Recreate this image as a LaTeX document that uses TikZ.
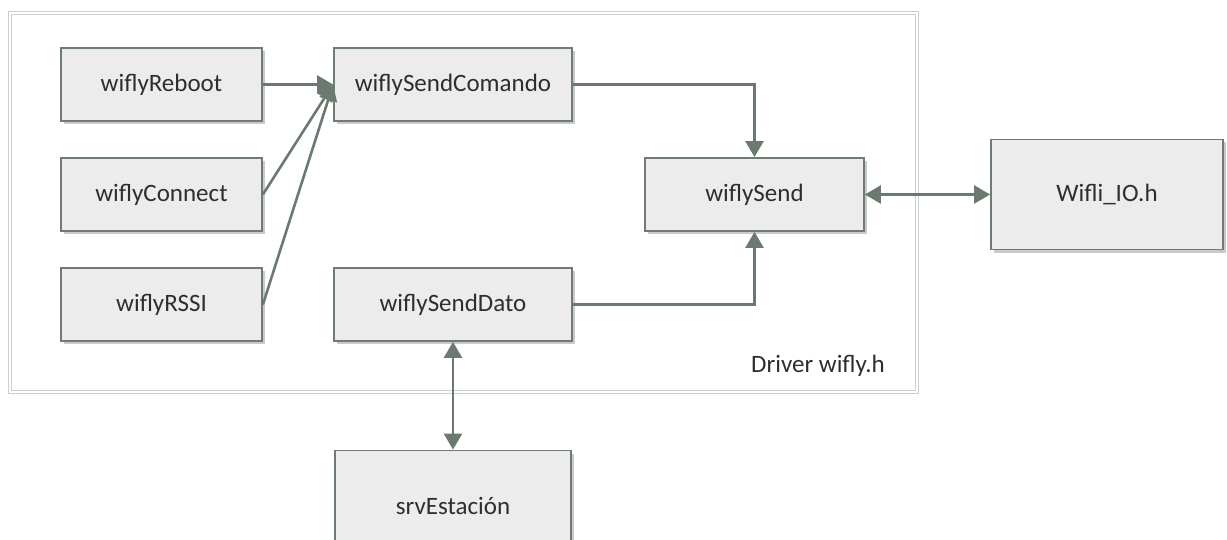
\documentclass[tikz,border=0pt]{standalone}
\usepackage{fontspec}
\setmainfont{Carlito}
\usetikzlibrary{arrows.meta,shadows}

\definecolor{boxfill}{HTML}{EBECEB}
\definecolor{boxline}{HTML}{6E7C73}
\definecolor{arrowline}{HTML}{6B7A70}
\definecolor{framegray}{HTML}{C8D0CC}
\definecolor{textgray}{HTML}{2E2E2E}

\begin{document}
\begin{tikzpicture}[
	font=\fontsize{12.5}{15}\selectfont,
	module/.style={draw=boxline, line width=0.9pt, fill=boxfill, text=textgray,
		minimum width=100.5pt, minimum height=36.5pt, inner sep=0pt,
		drop shadow={shadow xshift=1.5pt, shadow yshift=-1.5pt, fill=black!35, opacity=0.6}},
	link/.style={color=arrowline, line width=1.3pt, -{Triangle[width=9pt,length=8pt]}},
	dlink/.style={link, {Triangle[width=9pt,length=8pt]}-{Triangle[width=9pt,length=8pt]}}
]
	\useasboundingbox (0,0) rectangle (613.5pt,-270pt);
	\clip (0,0) rectangle (613.5pt,-270pt);

	% Driver frame
	\draw[draw=framegray, line width=0.5pt, double=white, double distance=1.2pt]
		(5pt,-6.4pt) rectangle (458.5pt,-196pt);

	% Define nodes
	\node (reboot) [module] at (80.75pt,-42.25pt) {wiflyReboot};
	\node (connect) [module, node distance=55pt, below of=reboot] {wiflyConnect};
	\node (rssi) [module, node distance=55pt, below of=connect] {wiflyRSSI};

	\node (comando) [module, minimum width=119pt, node distance=145.75pt, right of=reboot] {wiflySendComando};
	\node (dato) [module, minimum width=119pt, node distance=110pt, below of=comando] {wiflySendDato};
	\node (send) [module, minimum width=109.5pt, node distance=296.5pt, right of=connect] {wiflySend};

	\node (wifli) [module, minimum width=116pt, minimum height=55pt, node distance=176.25pt, right of=send] {Wifli\_IO.h};
	\node (srv) [module, minimum width=118pt, minimum height=55pt, node distance=100.5pt, below of=dato] {srvEstación};

	\node (drvlabel) [text=textgray] at (409pt,-183pt) {Driver wifly.h};

	% Draw edges
	\path[link]
	(reboot) edge (comando)
	(connect.east) edge (comando.west)
	(rssi.east) edge (comando.west);

	\draw[link] (comando) -| (send);
	\draw[link] (dato) -| (send);

	\draw[dlink] (send) -- (wifli);
	\draw[dlink] (dato) -- (srv);
\end{tikzpicture}
\end{document}
